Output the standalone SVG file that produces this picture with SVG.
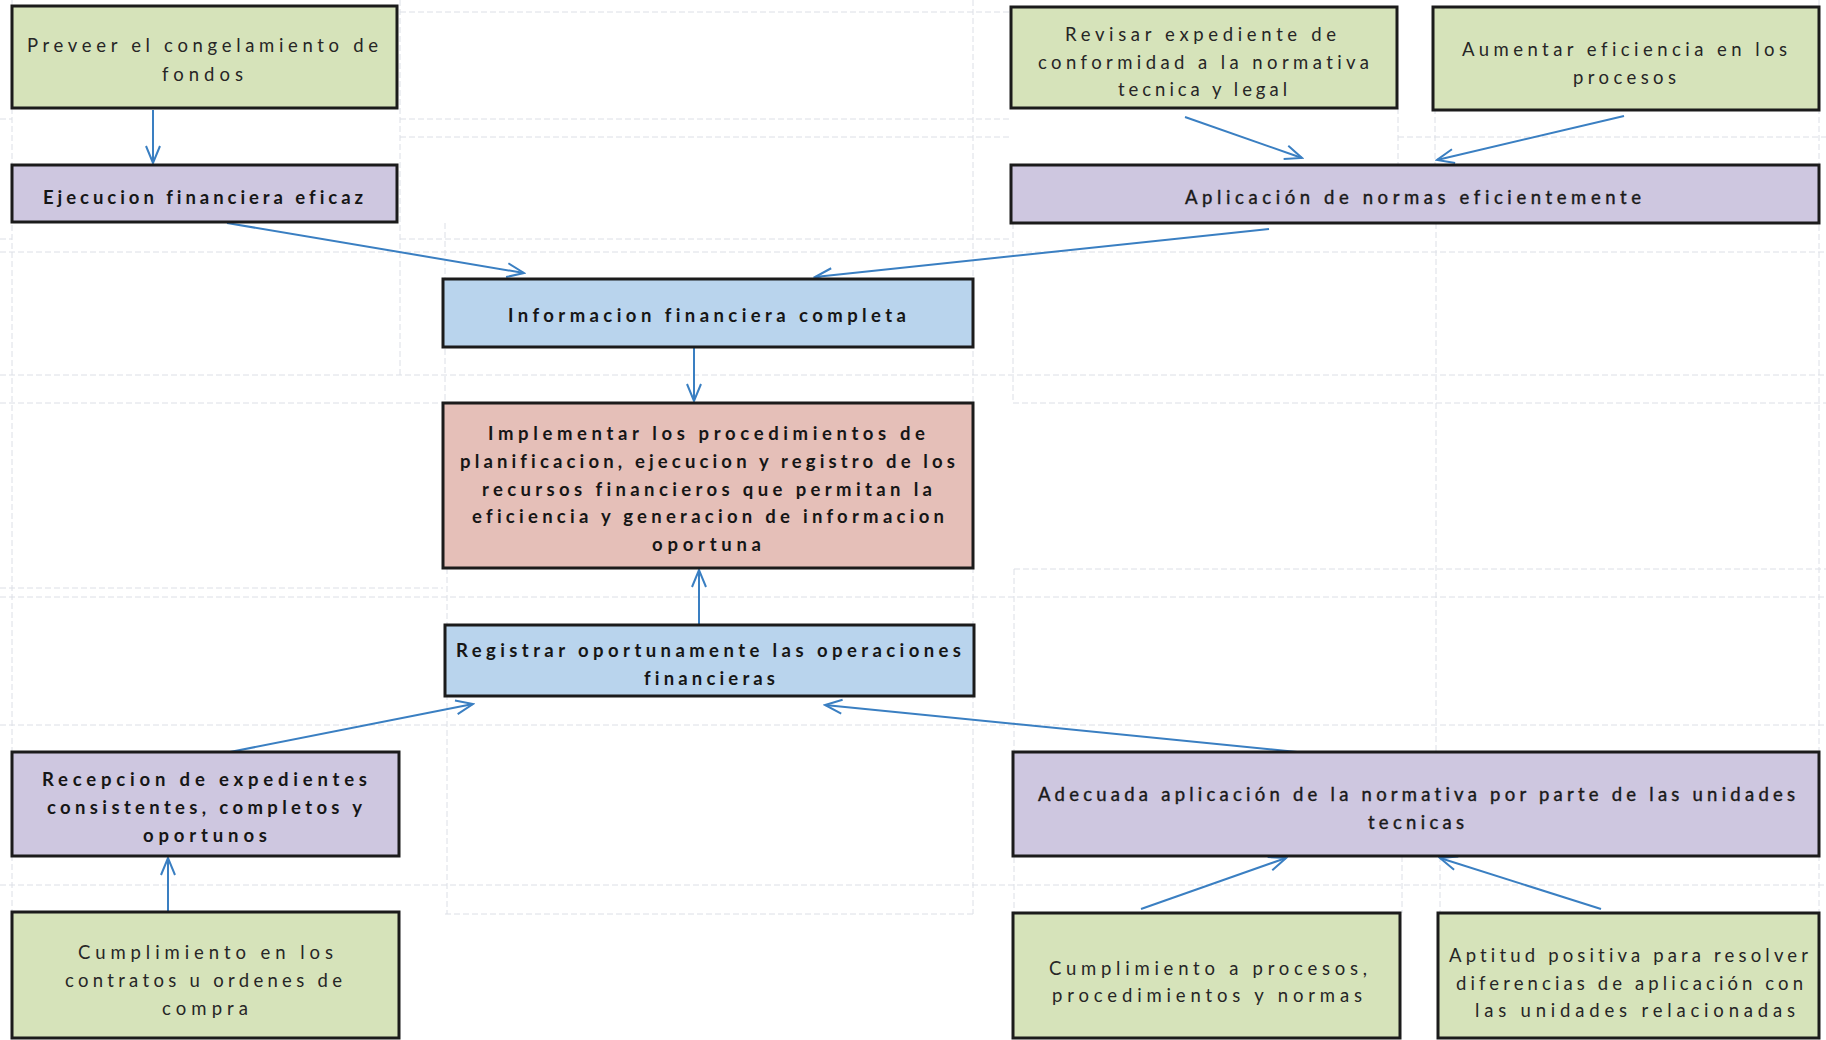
<svg xmlns="http://www.w3.org/2000/svg" width="1826" height="1040" viewBox="0 0 1826 1040">
  <style>
    .grid { stroke: #dcdfe6; stroke-width: 1; stroke-dasharray: 6 3; fill: none; }
    .box { stroke: #1b1b1b; stroke-width: 3; }
    .green { fill: #d6e3ba; }
    .purple { fill: #cec7e0; }
    .blue { fill: #b9d4ed; }
    .pink { fill: #e5bfb8; }
    text { font-family: Lato, "Open Sans", "Liberation Sans", sans-serif; font-size: 18.5px; font-variant-ligatures: none; }
    .reg { fill: #262626; }
    .mid { fill: #1a1a1a; stroke: #1a1a1a; stroke-width: 0.4; }
    .bold { fill: #161616; font-weight: bold; }
    .link { stroke: #3a7fc2; stroke-width: 2; fill: none; marker-end: url(#head); }
  </style>
  <defs>
    <marker id="head" viewBox="-20 -10 22 20" refX="0" refY="0" markerWidth="22" markerHeight="20" markerUnits="userSpaceOnUse" orient="auto">
      <path d="M-17,-7 L0,0 L-17,7" fill="none" stroke="#3a7fc2" stroke-width="2"/>
    </marker>
  </defs>

  <rect width="1826" height="1040" fill="#ffffff"/>

  <!-- faint worksheet gridlines behind the chart -->
  <g id="gridlines" class="grid">
    <path d="M400,12 H1011"/>
    <path d="M0,119 H12 M400,119 H1011"/>
    <path d="M400,137 H1011 M1398,137 H1826"/>
    <path d="M0,239 H12 M400,239 H1011"/>
    <path d="M0,252 H1826"/>
    <path d="M0,375 H1826"/>
    <path d="M0,403 H443 M1013,403 H1826"/>
    <path d="M1014,569 H1826"/>
    <path d="M0,588 H443"/>
    <path d="M0,597 H1826"/>
    <path d="M0,725 H1826"/>
    <path d="M0,885 H1826"/>
    <path d="M445,914 H974"/>
    <path d="M12,0 V1040"/>
    <path d="M400,0 V375"/>
    <path d="M445,223 V403 M447,568 V914"/>
    <path d="M973,0 V914"/>
    <path d="M1013,223 V403 M1014,569 V914"/>
    <path d="M1398,108 V165 M1402,856 V913"/>
    <path d="M1435,108 V165 M1436,223 V752 M1440,856 V913"/>
    <path d="M1819,0 V1040"/>
  </g>

  <!-- connectors -->
  <g id="connectors">
    <path class="link" d="M153,110 L153,163"/>
    <path class="link" d="M227,223 L524,273"/>
    <path class="link" d="M1269,229 L815,277"/>
    <path class="link" d="M1185,117 L1302,158"/>
    <path class="link" d="M1624,116 L1437,160"/>
    <path class="link" d="M694,347 L694,401"/>
    <path class="link" d="M699,625 L699,570"/>
    <path class="link" d="M230,752 L473,704"/>
    <path class="link" d="M1327,755 L825,705"/>
    <path class="link" d="M168,912 L168,858"/>
    <path class="link" d="M1141,909 L1286,858"/>
    <path class="link" d="M1601,909 L1440,858"/>
  </g>

  <!-- nodes -->
  <g id="preveer">
    <rect class="box green" x="12" y="6" width="385" height="102"/>
    <text class="reg" x="27" y="52" textLength="351" lengthAdjust="spacing">Preveer el congelamiento de</text>
    <text class="reg" x="162" y="81" textLength="81" lengthAdjust="spacing">fondos</text>
  </g>

  <g id="ejecucion">
    <rect class="box purple" x="12" y="165" width="385" height="57"/>
    <text class="bold" x="43" y="204" textLength="320" lengthAdjust="spacing">Ejecucion financiera eficaz</text>
  </g>

  <g id="revisar">
    <rect class="box green" x="1011" y="7" width="386" height="101"/>
    <text class="reg" x="1065" y="41" textLength="271" lengthAdjust="spacing">Revisar expediente de</text>
    <text class="reg" x="1038" y="69" textLength="331" lengthAdjust="spacing">conformidad a la normativa</text>
    <text class="reg" x="1118" y="96" textLength="169" lengthAdjust="spacing">tecnica y legal</text>
  </g>

  <g id="aumentar">
    <rect class="box green" x="1433" y="7" width="386" height="103"/>
    <text class="reg" x="1462" y="56" textLength="325" lengthAdjust="spacing">Aumentar eficiencia en los</text>
    <text class="reg" x="1573" y="84" textLength="103" lengthAdjust="spacing">procesos</text>
  </g>

  <g id="aplicacion">
    <rect class="box purple" x="1011" y="165" width="808" height="58"/>
    <text class="mid" x="1185" y="204" textLength="456" lengthAdjust="spacing">Aplicación de normas eficientemente</text>
  </g>

  <g id="informacion">
    <rect class="box blue" x="443" y="279" width="530" height="68"/>
    <text class="bold" x="508" y="322" textLength="398" lengthAdjust="spacing">Informacion financiera completa</text>
  </g>

  <g id="implementar">
    <rect class="box pink" x="443" y="403" width="530" height="165"/>
    <text class="bold" x="488" y="440" textLength="437" lengthAdjust="spacing">Implementar los procedimientos de</text>
    <text class="bold" x="460" y="468" textLength="495" lengthAdjust="spacing">planificacion,  ejecucion y registro de los</text>
    <text class="bold" x="482" y="496" textLength="450" lengthAdjust="spacing">recursos financieros que permitan  la</text>
    <text class="bold" x="472" y="523" textLength="472" lengthAdjust="spacing">eficiencia y generacion de informacion</text>
    <text class="bold" x="652" y="551" textLength="109" lengthAdjust="spacing">oportuna</text>
  </g>

  <g id="registrar">
    <rect class="box blue" x="445" y="625" width="529" height="71"/>
    <text class="bold" x="456" y="657" textLength="505" lengthAdjust="spacing">Registrar oportunamente las operaciones</text>
    <text class="bold" x="644" y="685" textLength="131" lengthAdjust="spacing">financieras</text>
  </g>

  <g id="recepcion">
    <rect class="box purple" x="12" y="752" width="387" height="104"/>
    <text class="bold" x="42" y="786" textLength="325" lengthAdjust="spacing">Recepcion de expedientes</text>
    <text class="bold" x="47" y="814" textLength="315" lengthAdjust="spacing">consistentes, completos y</text>
    <text class="bold" x="143" y="842" textLength="124" lengthAdjust="spacing">oportunos</text>
  </g>

  <g id="cumplimiento-contratos">
    <rect class="box green" x="12" y="912" width="387" height="126"/>
    <text class="reg" x="78" y="959" textLength="255" lengthAdjust="spacing">Cumplimiento en los</text>
    <text class="reg" x="65" y="987" textLength="277" lengthAdjust="spacing">contratos u ordenes de</text>
    <text class="reg" x="162" y="1015" textLength="86" lengthAdjust="spacing">compra</text>
  </g>

  <g id="adecuada">
    <rect class="box purple" x="1013" y="752" width="806" height="104"/>
    <text class="mid" x="1038" y="801" textLength="757" lengthAdjust="spacing">Adecuada aplicación de la normativa por parte de las unidades</text>
    <text class="mid" x="1368" y="829" textLength="96" lengthAdjust="spacing">tecnicas</text>
  </g>

  <g id="cumplimiento-procesos">
    <rect class="box green" x="1013" y="913" width="387" height="125"/>
    <text class="reg" x="1049" y="975" textLength="318" lengthAdjust="spacing">Cumplimiento a procesos,</text>
    <text class="reg" x="1052" y="1002" textLength="310" lengthAdjust="spacing">procedimientos y normas</text>
  </g>

  <g id="aptitud">
    <rect class="box green" x="1438" y="913" width="381" height="125"/>
    <text class="reg" x="1449" y="962" textLength="359" lengthAdjust="spacing">Aptitud positiva para resolver</text>
    <text class="reg" x="1456" y="990" textLength="347" lengthAdjust="spacing">diferencias de aplicación con</text>
    <text class="reg" x="1475" y="1017" textLength="320" lengthAdjust="spacing">las unidades relacionadas</text>
  </g>
</svg>
